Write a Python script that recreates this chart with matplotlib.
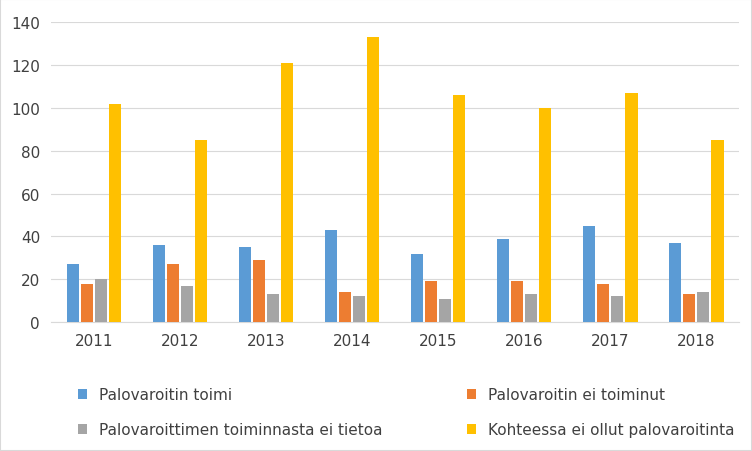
import matplotlib.pyplot as plt
from matplotlib.patches import Rectangle
import numpy as np

years = ["2011","2012","2013","2014","2015","2016","2017","2018"]
toimi = [27,36,35,43,32,39,45,37]
ei_toiminut = [18,27,29,14,19,19,18,13]
ei_tietoa = [20,17,13,12,11,13,12,14]
ei_ollut = [102,85,121,133,106,100,107,85]
labels = ["Palovaroitin toimi","Palovaroitin ei toiminut",
          "Palovaroittimen toiminnasta ei tietoa","Kohteessa ei ollut palovaroitinta"]
colors = ["#5B9BD5","#ED7D31","#A5A5A5","#FFC000"]

fig = plt.figure(figsize=(7.52,4.52), dpi=100)
ax = fig.add_axes([0.068, 0.285, 0.915, 0.664])
x = np.arange(len(years))
w = 0.14; step = 0.165
bars = []
for i,(vals,lab,c) in enumerate(zip([toimi,ei_toiminut,ei_tietoa,ei_ollut],labels,colors)):
    bars.append(ax.bar(x+(i-1.5)*step, vals, w, color=c, label=lab, zorder=3))
ax.set_ylim(0,140)
ax.set_yticks(range(0,141,20))
ax.set_xlim(-0.5,7.5)
ax.set_xticks(x, years)
ax.grid(axis='y', color='#D9D9D9', lw=0.8, zorder=0)
for s in ['top','right','left']:
    ax.spines[s].set_visible(False)
ax.spines['bottom'].set_color('#D9D9D9')
ax.tick_params(length=0, labelsize=11, colors='#404040', pad=8)
order = [0,2,1,3]
fig.legend([bars[i] for i in order], [labels[i] for i in order],
           loc='lower left', bbox_to_anchor=(0.085,0.0), ncol=2, frameon=False,
           fontsize=11, handlelength=0.6, handleheight=0.6, columnspacing=5.5,
           labelspacing=1.3, labelcolor='#404040')
fig.patches.append(Rectangle((0,0),1,1,transform=fig.transFigure,fill=False,
                             edgecolor='#D9D9D9',lw=1.5))
plt.savefig("out.png")
